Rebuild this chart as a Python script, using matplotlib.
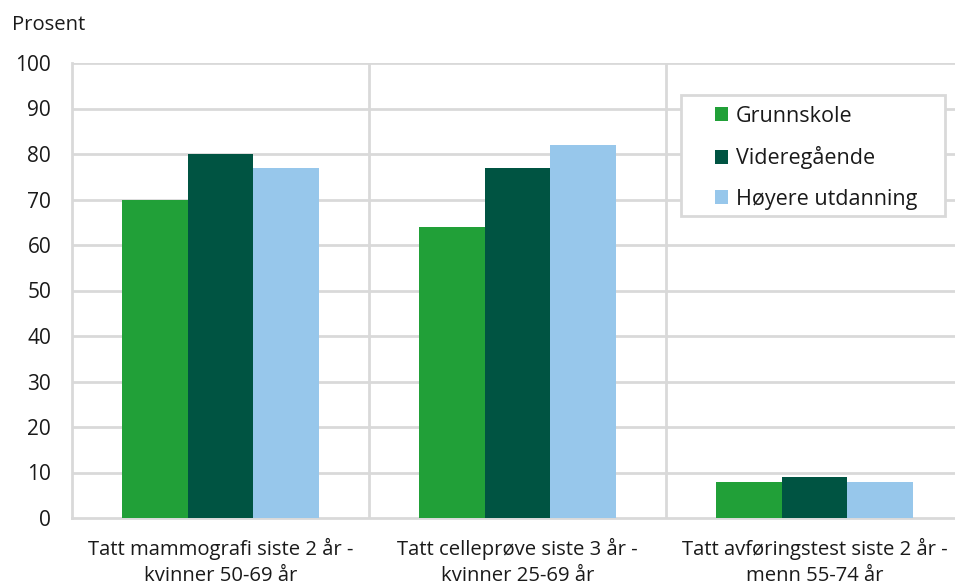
import matplotlib.pyplot as plt
from matplotlib.patches import Rectangle
import numpy as np

plt.rcParams['font.family'] = ['Open Sans', 'DejaVu Sans']

categories = ["Tatt mammografi siste 2 år -\nkvinner 50-69 år",
              "Tatt celleprøve siste 3 år -\nkvinner 25-69 år",
              "Tatt avføringstest siste 2 år -\nmenn 55-74 år"]
series = ["Grunnskole", "Videregående", "Høyere utdanning"]
grunnskole = [70, 64, 8]
videregaende = [80, 77, 9]
hoyere = [77, 82, 8]
yticks = [0, 10, 20, 30, 40, 50, 60, 70, 80, 90, 100]

colors = ["#21a038", "#005442", "#97c7eb"]
grid_c = "#d9d9d9"
txt_c = "#1a1a1a"
W, H = 955, 588

fig = plt.figure(figsize=(9.55, 5.88), dpi=100)
# axes run slightly past the right edge, as in the original crop
ax = fig.add_axes([72 / W, 1 - 518 / H, 891 / W, 455 / H])

x = np.arange(len(categories))
w = 0.222
for i, (vals, name) in enumerate(zip([grunnskole, videregaende, hoyere], series)):
    ax.bar(x + (i - 1) * w, vals, w, color=colors[i], label=name, zorder=3)

ax.set_xlim(-0.5, 2.5)
ax.set_ylim(0, 100)
ax.set_yticks(yticks)
ax.set_xticks(x)
ax.set_xticklabels(categories, fontsize=14.6, linespacing=1.45)
ax.tick_params(axis='y', length=0, pad=15, labelsize=15, colors=txt_c)
ax.tick_params(axis='x', length=0, pad=14, colors=txt_c)

for y in yticks[1:]:
    ax.axhline(y, color=grid_c, lw=2, zorder=1)
for b in [0.5, 1.5]:
    ax.axvline(b, color=grid_c, lw=2, zorder=1)
for side in ["top", "right"]:
    ax.spines[side].set_visible(False)
for side in ["left", "bottom"]:
    ax.spines[side].set_color(grid_c)
    ax.spines[side].set_linewidth(2)

fig.text(12 / W, 1 - 25 / H, "Prosent", fontsize=14.6, color=txt_c, va="center")

# legend box drawn separately, wider on the left than matplotlib's own frame
box = Rectangle((681 / W, 1 - 216 / H), 264 / W, 121 / H, transform=fig.transFigure,
                facecolor="white", edgecolor=grid_c, lw=2, zorder=5, clip_on=False)
ax.add_patch(box)
leg = ax.legend(loc="upper left", bbox_to_anchor=(715 / W, 1 - 106 / H), bbox_transform=fig.transFigure,
                fontsize=15.5, frameon=False, handlelength=0.62, handleheight=0.62,
                handletextpad=0.35, labelspacing=0.9, borderpad=0, borderaxespad=0)
leg.set_zorder(6)
for t in leg.get_texts():
    t.set_color(txt_c)

fig.savefig("out.png", dpi=100)
